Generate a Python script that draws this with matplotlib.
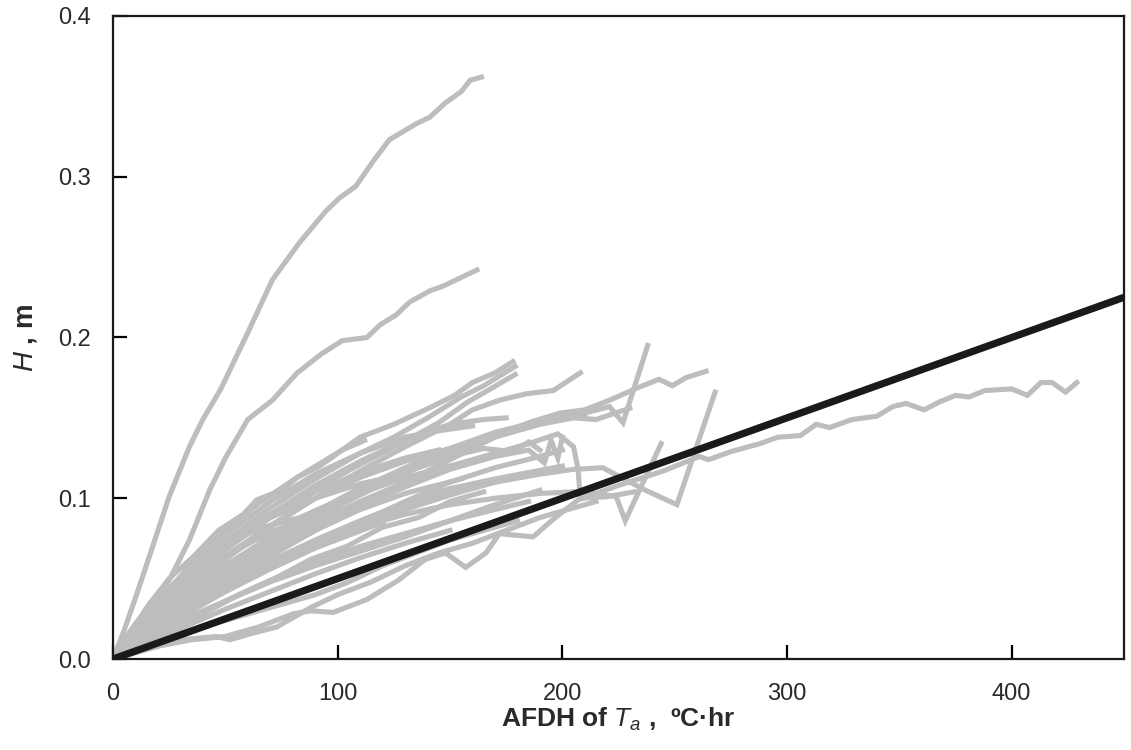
import matplotlib
matplotlib.use("Agg")
import matplotlib.pyplot as plt

plt.rcParams['font.family'] = ['Liberation Sans', 'DejaVu Sans']
plt.rcParams['mathtext.fontset'] = 'custom'
plt.rcParams['mathtext.it'] = 'Liberation Sans:italic'
plt.rcParams['mathtext.rm'] = 'Liberation Sans'

# fitted line H = k * AFDH
line_x = [0, 450]
line_y = [0, 0.225]

curves = [
    ([0, 5, 10, 16, 25, 34, 40, 48, 60, 71, 83, 95, 101, 108, 116, 123, 135, 141, 148, 155, 159, 164],
     [0, 0.018, 0.038, 0.063, 0.101, 0.132, 0.149, 0.168, 0.203, 0.236, 0.259, 0.279, 0.287, 0.294, 0.310, 0.323, 0.333, 0.337, 0.346, 0.353, 0.360, 0.362]),
    ([0, 5, 10, 17, 25, 34, 43, 50, 60, 71, 82, 93, 102, 113, 119, 126, 132, 141, 147, 153, 162],
     [0, 0.012, 0.022, 0.034, 0.049, 0.074, 0.105, 0.125, 0.149, 0.161, 0.178, 0.190, 0.198, 0.200, 0.208, 0.214, 0.222, 0.229, 0.232, 0.236, 0.242]),
    ([0, 10, 20, 35, 50, 65, 80, 88, 98, 113, 127, 139, 148, 157, 166, 172, 187, 196, 207, 225, 245, 261, 265, 275, 288, 296, 306, 313, 319, 329, 340, 347, 353, 361, 368, 375, 381, 388, 400, 407, 413, 418, 424, 429],
     [0, 0.004, 0.008, 0.012, 0.014, 0.020, 0.028, 0.030, 0.029, 0.037, 0.049, 0.062, 0.066, 0.057, 0.066, 0.078, 0.076, 0.087, 0.099, 0.108, 0.117, 0.126, 0.124, 0.129, 0.134, 0.138, 0.139, 0.146, 0.144, 0.149, 0.151, 0.157, 0.159, 0.155, 0.160, 0.164, 0.163, 0.167, 0.168, 0.164, 0.172, 0.172, 0.166, 0.172]),
    ([0, 10, 20, 35, 50, 70, 90, 110, 130, 150, 170, 185, 199, 210, 221, 234, 243, 249, 255, 264],
     [0, 0.012, 0.022, 0.036, 0.048, 0.064, 0.080, 0.095, 0.110, 0.124, 0.138, 0.147, 0.153, 0.155, 0.161, 0.169, 0.174, 0.170, 0.175, 0.179]),
    ([0, 10, 20, 35, 50, 70, 90, 110, 130, 150, 160, 172, 184, 196, 208],
     [0, 0.014, 0.027, 0.045, 0.062, 0.082, 0.100, 0.117, 0.132, 0.146, 0.155, 0.161, 0.165, 0.167, 0.178]),
    ([0, 10, 20, 35, 50, 65, 82, 102, 110, 125, 142, 152, 160, 170, 178],
     [0, 0.018, 0.034, 0.060, 0.080, 0.097, 0.113, 0.130, 0.138, 0.146, 0.157, 0.164, 0.172, 0.178, 0.185]),
    ([0, 10, 20, 35, 50, 70, 90, 110, 125, 140, 155, 165, 172, 179],
     [0, 0.016, 0.031, 0.054, 0.073, 0.094, 0.112, 0.128, 0.138, 0.150, 0.163, 0.170, 0.176, 0.182]),
    ([0, 10, 20, 35, 50, 70, 90, 110, 128, 145, 158, 168, 179],
     [0, 0.015, 0.029, 0.050, 0.068, 0.089, 0.106, 0.121, 0.134, 0.147, 0.160, 0.168, 0.177]),
    ([0, 10, 20, 35, 50, 70, 90, 110, 130, 150, 170, 185, 200, 210, 221, 227, 238],
     [0, 0.013, 0.025, 0.041, 0.055, 0.072, 0.088, 0.102, 0.116, 0.128, 0.139, 0.146, 0.151, 0.153, 0.157, 0.147, 0.195]),
    ([0, 10, 20, 35, 50, 70, 90, 110, 130, 150, 170, 190, 205, 218, 237, 251, 268],
     [0, 0.010, 0.020, 0.033, 0.045, 0.060, 0.073, 0.085, 0.095, 0.104, 0.110, 0.115, 0.118, 0.119, 0.105, 0.096, 0.166]),
    ([0, 10, 20, 35, 50, 70, 90, 110, 130, 150, 170, 190, 205, 215, 224, 228, 236, 244],
     [0, 0.011, 0.021, 0.035, 0.047, 0.061, 0.073, 0.082, 0.090, 0.096, 0.100, 0.103, 0.104, 0.103, 0.101, 0.086, 0.110, 0.134]),
    ([0, 10, 20, 35, 50, 70, 90, 110, 130, 150, 170, 185, 198, 205, 207, 208, 220, 232],
     [0, 0.012, 0.024, 0.040, 0.053, 0.070, 0.085, 0.098, 0.110, 0.120, 0.128, 0.134, 0.140, 0.132, 0.118, 0.100, 0.101, 0.104]),
    ([0, 10, 20, 35, 50, 70, 90, 110, 130, 150, 170, 185, 192, 195, 198, 200],
     [0, 0.012, 0.023, 0.038, 0.051, 0.067, 0.082, 0.095, 0.107, 0.118, 0.126, 0.130, 0.122, 0.136, 0.125, 0.138]),
    ([0, 10, 20, 35, 50, 70, 90, 110, 130, 150, 165, 178, 185, 190],
     [0, 0.014, 0.027, 0.044, 0.058, 0.076, 0.091, 0.104, 0.116, 0.126, 0.131, 0.129, 0.135, 0.130]),
    ([0, 10, 20, 35, 50, 70, 90, 110, 130, 150, 165, 175],
     [0, 0.017, 0.032, 0.052, 0.070, 0.090, 0.108, 0.123, 0.136, 0.146, 0.149, 0.150]),
    ([0, 10, 20, 35, 50, 70, 90, 110, 130, 145, 160],
     [0, 0.019, 0.036, 0.058, 0.077, 0.098, 0.115, 0.128, 0.138, 0.142, 0.145]),
    ([0, 10, 20, 35, 50, 70, 90, 110, 130, 150],
     [0, 0.013, 0.025, 0.041, 0.056, 0.074, 0.090, 0.103, 0.113, 0.120]),
    ([0, 10, 20, 35, 50, 70, 90, 110, 125, 140],
     [0, 0.010, 0.019, 0.032, 0.044, 0.059, 0.073, 0.085, 0.093, 0.100]),
    ([0, 10, 20, 35, 50, 70, 90, 110, 130, 150, 160, 170],
     [0, 0.009, 0.018, 0.030, 0.042, 0.057, 0.070, 0.082, 0.093, 0.102, 0.106, 0.110]),
    ([0, 10, 20, 35, 50, 70, 90, 110, 130, 150, 170, 185],
     [0, 0.008, 0.016, 0.026, 0.036, 0.049, 0.060, 0.070, 0.078, 0.086, 0.093, 0.098]),
    ([0, 10, 20, 35, 50, 70, 90, 110, 130],
     [0, 0.018, 0.034, 0.054, 0.070, 0.088, 0.100, 0.109, 0.115]),
    ([0, 10, 20, 35, 50, 70, 90, 105, 120],
     [0, 0.010, 0.019, 0.031, 0.042, 0.056, 0.069, 0.077, 0.085]),
    ([0, 10, 20, 35, 50, 70, 90, 110, 130, 150, 170, 185, 200],
     [0, 0.011, 0.021, 0.034, 0.046, 0.061, 0.074, 0.086, 0.097, 0.106, 0.112, 0.116, 0.120]),
    ([0, 10, 20, 35, 50, 70, 90, 110, 130, 150, 165],
     [0, 0.015, 0.029, 0.048, 0.064, 0.083, 0.100, 0.113, 0.123, 0.131, 0.135]),
    ([0, 15, 30, 46, 52, 62, 73, 88, 100, 115, 130, 145, 160, 175, 190, 205, 215],
     [0, 0.006, 0.012, 0.014, 0.012, 0.016, 0.020, 0.032, 0.040, 0.048, 0.058, 0.066, 0.072, 0.080, 0.088, 0.094, 0.098]),
    ([0, 10, 20, 35, 50, 70, 90, 110, 130, 150],
     [0, 0.007, 0.013, 0.022, 0.031, 0.042, 0.053, 0.063, 0.072, 0.080]),
    ([0, 10, 20, 35, 50, 70, 90, 110, 130, 150, 170, 190, 200],
     [0, 0.010, 0.019, 0.031, 0.042, 0.057, 0.071, 0.085, 0.098, 0.110, 0.119, 0.126, 0.130]),
    ([0, 10, 20, 35, 50, 70, 90, 110],
     [0, 0.016, 0.030, 0.049, 0.064, 0.079, 0.089, 0.095]),
    ([0, 10, 20, 35, 50, 65, 80, 95],
     [0, 0.020, 0.037, 0.058, 0.072, 0.081, 0.087, 0.090]),
    ([0, 10, 20, 35, 50, 70, 90, 110, 130, 145],
     [0, 0.016, 0.031, 0.051, 0.068, 0.088, 0.104, 0.116, 0.125, 0.130]),
    ([0, 10, 20, 35, 50, 70, 90, 110, 130, 150, 170, 190, 210],
     [0, 0.013, 0.025, 0.042, 0.057, 0.075, 0.091, 0.106, 0.119, 0.131, 0.141, 0.148, 0.152]),
    ([0, 10, 20, 35, 50, 70, 90, 110, 130, 150, 170, 190],
     [0, 0.009, 0.017, 0.027, 0.036, 0.048, 0.058, 0.067, 0.076, 0.086, 0.096, 0.105]),
    ([0, 15, 30, 45, 60, 75, 90, 105, 120, 135, 150, 165, 180],
     [0, 0.008, 0.016, 0.022, 0.028, 0.034, 0.040, 0.048, 0.058, 0.066, 0.074, 0.080, 0.086]),
    ([0, 10, 20, 35, 50, 70, 90, 110, 130, 150, 170, 190, 205, 215, 230],
     [0, 0.012, 0.024, 0.040, 0.054, 0.072, 0.088, 0.103, 0.116, 0.128, 0.138, 0.146, 0.150, 0.149, 0.156]),
    ([0, 10, 20, 35, 50, 70, 90, 110, 130, 155],
     [0, 0.012, 0.022, 0.036, 0.049, 0.065, 0.080, 0.093, 0.103, 0.112]),
    ([0, 8, 16, 25, 36, 47, 58, 64, 75, 82, 92, 102, 112],
     [0, 0.017, 0.034, 0.050, 0.064, 0.080, 0.090, 0.099, 0.105, 0.113, 0.120, 0.130, 0.136]),
    ([0, 12, 24, 38, 52, 66, 80, 96, 112, 128, 140],
     [0, 0.014, 0.030, 0.046, 0.060, 0.071, 0.086, 0.096, 0.108, 0.114, 0.124]),
    ([0, 12, 26, 40, 56, 72, 88, 104, 120, 136, 150, 165],
     [0, 0.009, 0.020, 0.028, 0.040, 0.050, 0.062, 0.070, 0.082, 0.088, 0.098, 0.104]),
]

fig = plt.figure(figsize=(11.31, 7.5), dpi=100)
ax = fig.add_axes([0.0999, 0.1213, 0.8939, 0.8574])

for cx, cy in curves:
    ax.plot(cx, cy, color='#bdbdbd', lw=3.7, solid_joinstyle='miter', zorder=2)

ax.plot(line_x, line_y, color='#1a1a1a', lw=5.2, solid_capstyle='butt', zorder=3)

ax.set_xlim(0, 450)
ax.set_ylim(0, 0.4)
ax.set_xticks([0, 100, 200, 300, 400])
ax.set_yticks([0, 0.1, 0.2, 0.3, 0.4])
ax.set_yticklabels(['0.0', '0.1', '0.2', '0.3', '0.4'])
ax.tick_params(direction='in', length=10, width=1.6, labelsize=17,
               labelcolor='#2a2a2a', top=False, right=False)
ax.tick_params(axis='x', pad=17)
ax.tick_params(axis='y', pad=16)
for s in ax.spines.values():
    s.set_linewidth(1.6)
    s.set_color('#1a1a1a')

ax.set_xlabel('AFDH of $T_a$ ,  ºC·hr', fontsize=19, fontweight='bold',
              color='#2a2a2a', labelpad=1)
ax.set_ylabel('$H$ , m', fontsize=20, fontweight='bold', color='#2a2a2a',
              labelpad=14)

fig.savefig('out.png', dpi=100)
